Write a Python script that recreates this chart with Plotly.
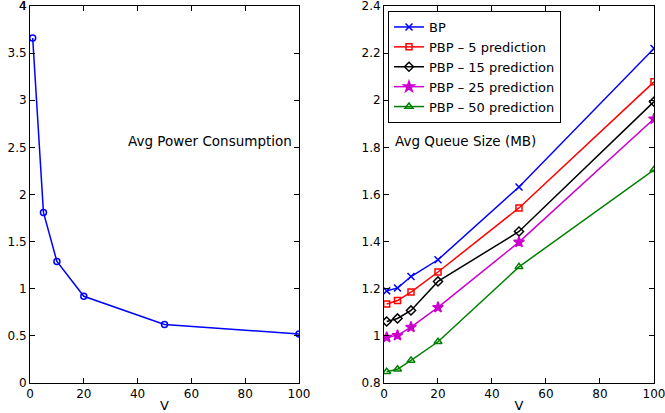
import plotly.graph_objects as go

V = [1, 5, 10, 20, 50, 100]
power = [3.66, 1.81, 1.29, 0.92, 0.62, 0.52]
bp = [1.191, 1.203, 1.252, 1.323, 1.632, 2.220]
pbp5 = [1.135, 1.150, 1.186, 1.271, 1.543, 2.078]
pbp15 = [1.061, 1.074, 1.108, 1.231, 1.443, 1.994]
pbp25 = [0.994, 1.002, 1.037, 1.121, 1.398, 1.921]
pbp50 = [0.848, 0.858, 0.896, 0.975, 1.293, 1.705]

names = ["BP", "PBP \u2013 5 prediction", "PBP \u2013 15 prediction",
         "PBP \u2013 25 prediction", "PBP \u2013 50 prediction"]
series = [bp, pbp5, pbp15, pbp25, pbp50]
colors = ["#0000ff", "#ff0000", "#000000", "#cc00cc", "#008000"]
symbols = ["x-thin-open", "square-open", "diamond-open", "star", "triangle-up-open"]
sizes = [7, 6, 7, 8, 7]

FAM = "DejaVu Sans, Verdana, sans-serif"

fig = go.Figure()
fig.add_trace(go.Scatter(x=V, y=power, mode="lines+markers", xaxis="x", yaxis="y",
                         line=dict(color="#0000ff", width=1.5),
                         marker=dict(symbol="circle-open", size=6, color="#0000ff",
                                     line=dict(width=1.5)),
                         showlegend=False))
for n, s, c, sym, sz in zip(names, series, colors, symbols, sizes):
    fig.add_trace(go.Scatter(x=V, y=s, mode="lines+markers", xaxis="x2", yaxis="y2",
                             name=n, line=dict(color=c, width=1.5),
                             marker=dict(symbol=sym, size=sz, color=c,
                                         line=dict(width=1.5, color=c))))

font = dict(family=FAM, size=12, color="black")
axcommon = dict(showline=True, linecolor="black", linewidth=1, mirror="allticks",
                ticks="inside", ticklen=5, tickcolor="black", showgrid=False,
                zeroline=False, tickfont=font, automargin=False,
                ticklabeloverflow="allow")

fig.update_layout(
    width=665, height=413,
    margin=dict(l=30, r=11, t=6, b=30, autoexpand=False),
    paper_bgcolor="white", plot_bgcolor="white",
    font=font,
    xaxis=dict(domain=[0.0, 0.4311], range=[0, 100], tickvals=[0, 20, 40, 60, 80, 100],
               anchor="y", title=dict(text="V", standoff=0, font=dict(family=FAM, size=13)),
               **axcommon),
    yaxis=dict(domain=[0, 1], range=[0, 4], tickmode="linear", tick0=0, dtick=0.5,
               anchor="x", **axcommon),
    xaxis2=dict(domain=[0.5673, 1.0], range=[0, 100], tickvals=[0, 20, 40, 60, 80, 100],
                anchor="y2", title=dict(text="V", standoff=0, font=dict(family=FAM, size=13)),
                **axcommon),
    yaxis2=dict(domain=[0, 1], range=[0.8, 2.4],
                tickvals=[0.8, 1.0, 1.2, 1.4, 1.6, 1.8, 2.0, 2.2, 2.4],
                ticktext=["0.8", "1", "1.2", "1.4", "1.6", "1.8", "2", "2.2", "2.4"],
                anchor="x2", **axcommon),
    legend=dict(x=0.5737, y=0.9867, xanchor="left", yanchor="top",
                bordercolor="black", borderwidth=1, bgcolor="white",
                font=dict(family=FAM, size=13, color="black"),
                itemwidth=30, tracegroupgap=0),
    annotations=[
        dict(text="Avg Power Consumption", xref="paper", yref="paper",
             x=(126 - 30) / 624, y=(383 - 141) / 377, xanchor="left", yanchor="middle",
             showarrow=False, font=dict(family=FAM, size=13.5, color="black")),
        dict(text="Avg Queue Size (MB)", xref="paper", yref="paper",
             x=(393 - 30) / 624, y=(383 - 141) / 377, xanchor="left", yanchor="middle",
             showarrow=False, font=dict(family=FAM, size=13.5, color="black")),
        dict(text="4", xref="paper", yref="y", x=0, y=4, xanchor="right",
             yanchor="middle", xshift=-2, showarrow=False, borderpad=0,
             font=dict(family=FAM, size=12, color="black")),
    ],
)

fig.write_html("out.html", config={"displayModeBar": False},
               post_script="document.body.style.margin='0px';document.body.style.overflow='hidden';")
